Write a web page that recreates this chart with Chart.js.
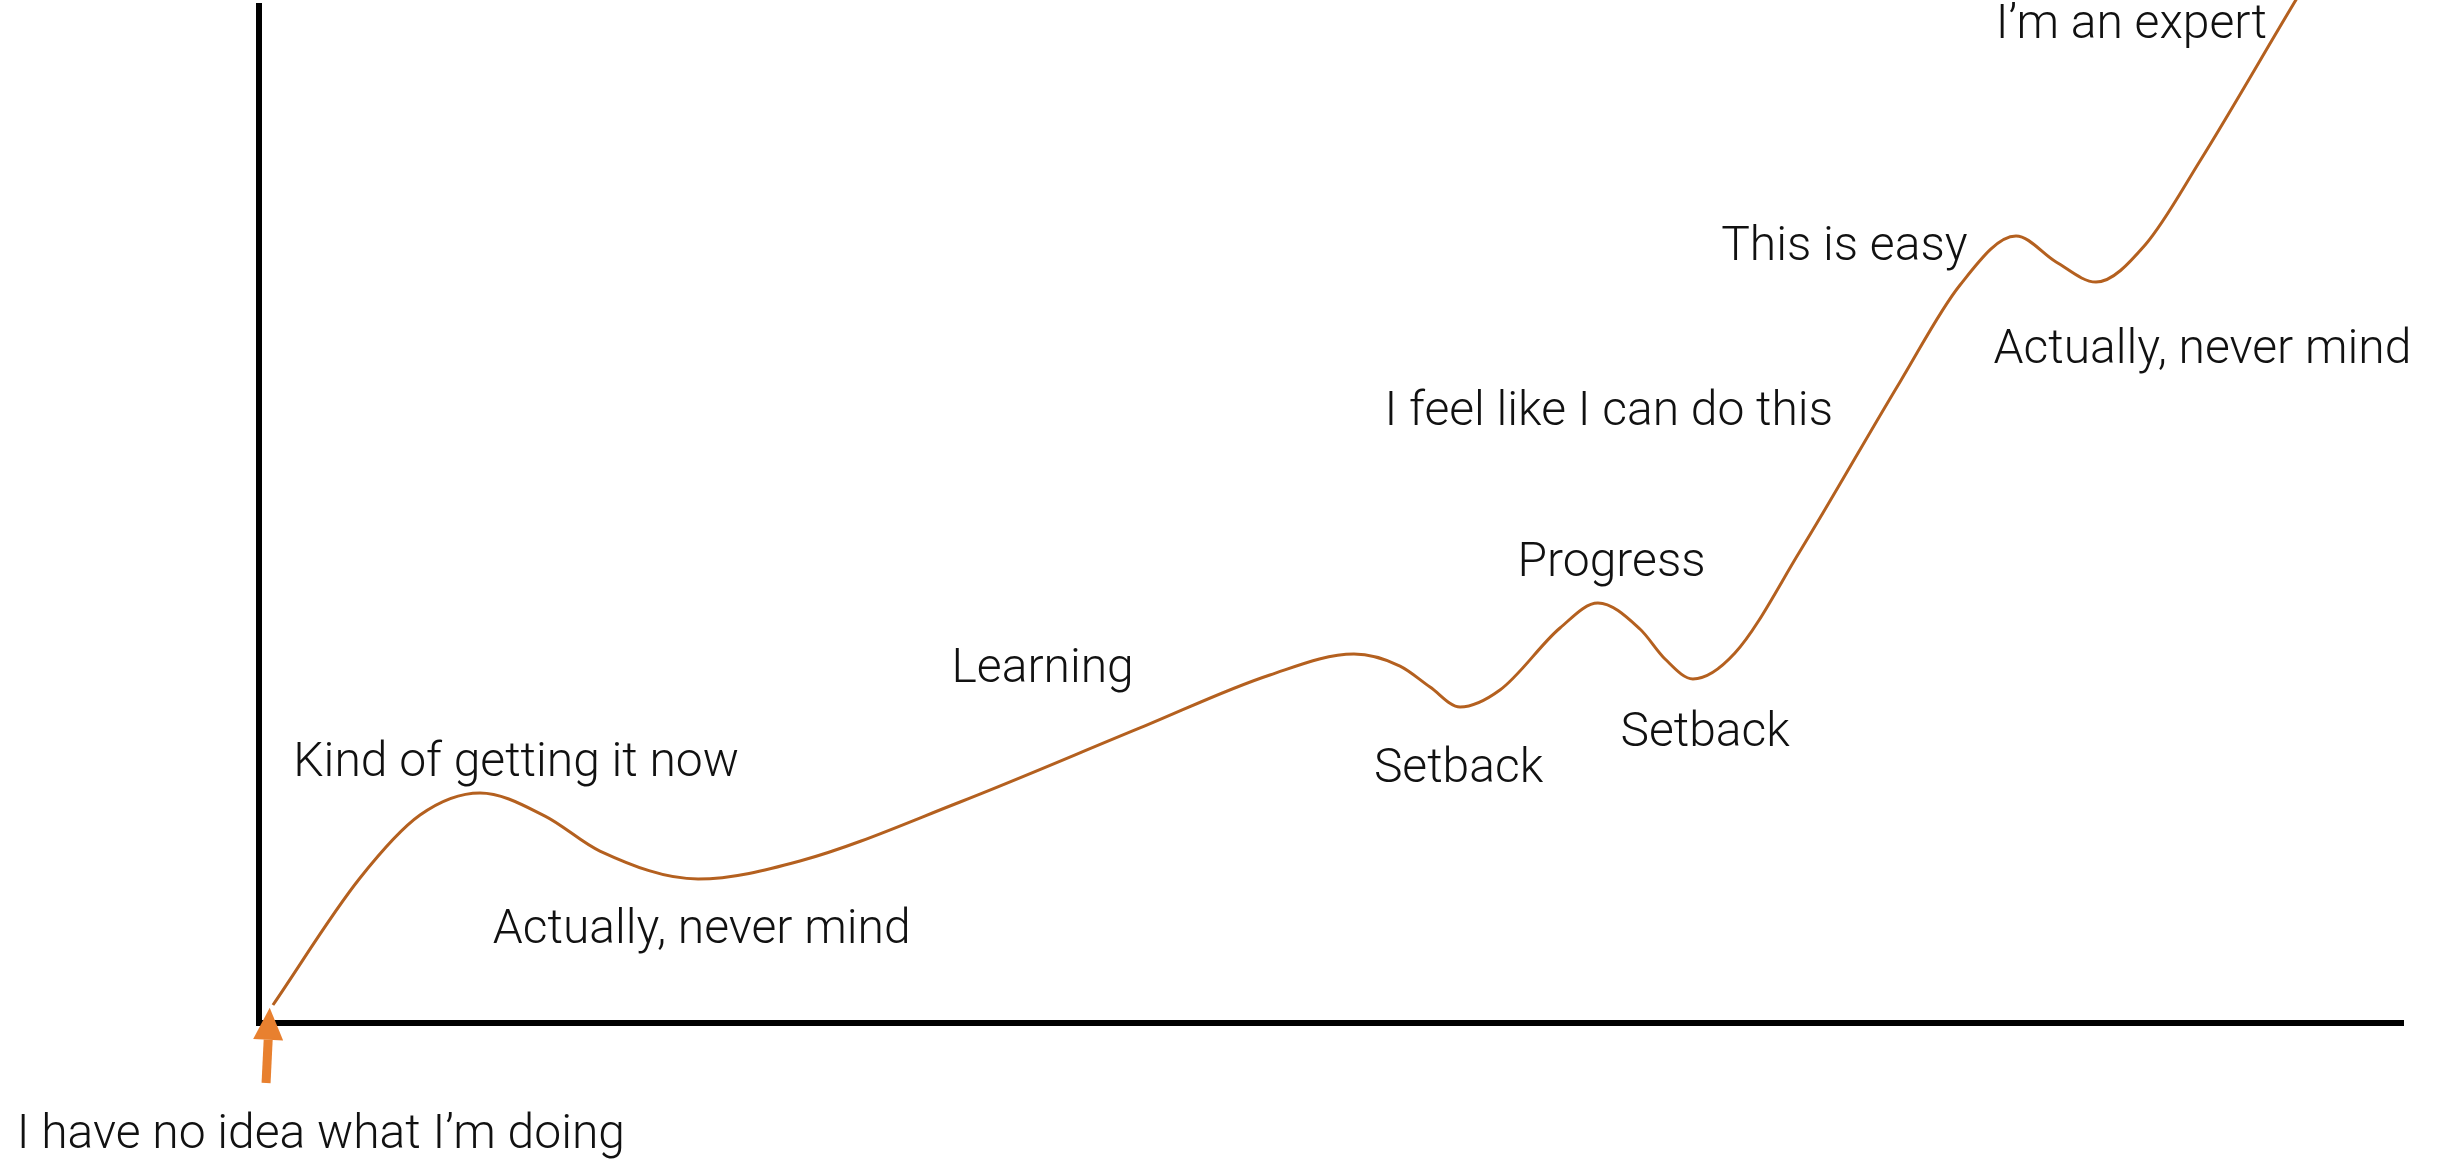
<!DOCTYPE html>
<html>
<head>
<meta charset="utf-8">
<title>Learning curve</title>
<script src="https://cdn.jsdelivr.net/npm/chart.js@4.4.1/dist/chart.umd.min.js"></script>
<style>
  html, body { margin: 0; padding: 0; background: #fff; }
  #wrap { width: 2440px; height: 1160px; }
</style>
</head>
<body>
<div id="wrap"><canvas id="curve" width="2440" height="1160"></canvas></div>
<script>
/* ════════════════════════════
   DATA  (time vs. confidence, 0–100)
════════════════════════════ */
const TIME = [0.65, 4.71, 7.51, 10.31, 13.34, 15.90, 20.48, 25.23, 32.70, 41.09, 47.15, 51.07, 53.22, 54.62, 56.02, 57.88, 60.68, 62.45, 64.41, 65.58, 66.88, 68.84, 71.88, 76.54, 79.34, 81.95, 83.82, 85.68, 87.97, 90.53, 95.20, 97.06];
const CONFIDENCE = [1.77, 14.26, 20.45, 22.62, 20.35, 16.91, 14.16, 15.93, 21.73, 29.01, 34.22, 36.28, 35.10, 33.04, 31.07, 32.74, 38.84, 41.30, 38.74, 35.79, 33.83, 36.38, 46.41, 63.03, 72.57, 77.38, 74.83, 72.86, 76.50, 84.76, 101.28, 107.67];

// text notes, anchored (left, baseline) in the same data units
const NOTE_TEXT = ['Kind of getting it now', 'Actually, never mind', 'Learning', 'Setback', 'Progress', 'Setback', 'I feel like I can do this', 'This is easy', 'Actually, never mind', 'I’m an expert', 'I have no idea what I’m doing'];
const NOTE_X = [1.6, 10.9, 32.3, 52.0, 58.7, 63.5, 52.5, 68.2, 80.9, 81.0, -11.3];
const NOTE_Y = [24.3, 7.9, 33.5, 23.7, 44.0, 27.2, 58.8, 75.0, 64.9, 96.9, -12.3];

// the "you start here" arrow: tail -> tip
const ARROW_FROM = [0.33, -5.9];
const ARROW_TO = [0.5, 1.5];

/* ════════════════════════════
   PLUGIN: notes + arrow
════════════════════════════ */
const notesPlugin = {
  id: 'notes',
  afterDraw(chart) {
    const { ctx, scales: { x, y } } = chart;
    ctx.save();

    // arrow
    const x0 = x.getPixelForValue(ARROW_FROM[0]), y0 = y.getPixelForValue(ARROW_FROM[1]);
    const x1 = x.getPixelForValue(ARROW_TO[0]),   y1 = y.getPixelForValue(ARROW_TO[1]);
    const ang = Math.atan2(y1 - y0, x1 - x0);
    const headLen = 32, headW = 15;
    const bx = x1 - headLen * Math.cos(ang), by = y1 - headLen * Math.sin(ang);
    ctx.strokeStyle = '#E8802F';
    ctx.fillStyle = '#E8802F';
    ctx.lineWidth = 9;
    ctx.beginPath();
    ctx.moveTo(x0, y0);
    ctx.lineTo(bx, by);
    ctx.stroke();
    ctx.beginPath();
    ctx.moveTo(x1, y1);
    ctx.lineTo(bx + headW * Math.sin(ang), by - headW * Math.cos(ang));
    ctx.lineTo(bx - headW * Math.sin(ang), by + headW * Math.cos(ang));
    ctx.closePath();
    ctx.fill();

    // notes
    ctx.fillStyle = '#111';
    ctx.font = '300 48px Roboto, "Open Sans", sans-serif';
    ctx.textAlign = 'left';
    ctx.textBaseline = 'alphabetic';
    NOTE_TEXT.forEach((t, i) => {
      ctx.fillText(t, x.getPixelForValue(NOTE_X[i]), y.getPixelForValue(NOTE_Y[i]));
    });
    ctx.restore();
  }
};

/* ════════════════════════════
   CHART
════════════════════════════ */
const axisOpts = {
  type: 'linear', min: 0, max: 100,
  ticks: { display: false },
  grid: { display: false, drawTicks: false },
  border: { display: true, color: '#000', width: 6 },
};

new Chart(document.getElementById('curve').getContext('2d'), {
  type: 'line',
  data: {
    datasets: [{
      data: TIME.map((t, i) => ({ x: t, y: CONFIDENCE[i] })),
      borderColor: '#B4601F',
      borderWidth: 3,
      pointRadius: 0,
      cubicInterpolationMode: 'monotone',
      fill: false,
      clip: false,
    }]
  },
  options: {
    responsive: false,
    animation: false,
    events: [],
    layout: { padding: { left: 259, right: 37, top: 6, bottom: 137 } },
    plugins: { legend: { display: false }, tooltip: { enabled: false } },
    scales: {
      x: { ...axisOpts, afterFit(s) { s.height = 0; } },
      y: { ...axisOpts, afterFit(s) { s.width = 0; } },
    }
  },
  plugins: [notesPlugin]
});
</script>
</body>
</html>
